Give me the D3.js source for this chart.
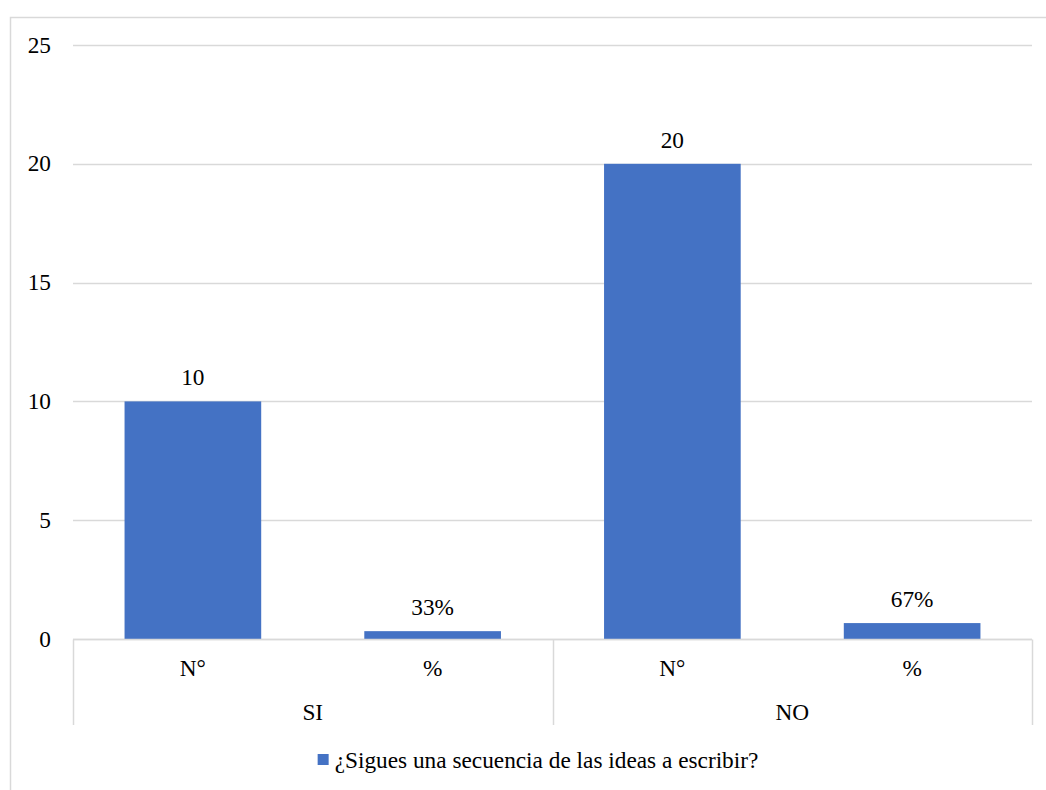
<!DOCTYPE html>
<html><head><meta charset="utf-8">
<script src="https://cdn.jsdelivr.net/npm/d3@7"></script>
<style>body{margin:0;background:#fff}svg{display:block}</style>
</head><body>
<script>
const groups = ["SI", "NO"];
const subCats = ["N°", "%"];
const values = [10, 0.33, 20, 0.67];
const valueLabels = ["10", "33%", "20", "67%"];
const yTicks = [0, 5, 10, 15, 20, 25];
const seriesName = "¿Sigues una secuencia de las ideas a escribir?";

const W = 1046, H = 790;
const FONT = "'Liberation Serif'";
const FS = 23.3;
const m = {l: 73, r: 14, t: 45, b: 151};
const svg = d3.select("body").append("svg").attr("width", W).attr("height", H);
svg.append("rect").attr("x", 10.5).attr("y", 17.5).attr("width", 1100).attr("height", 900)
  .attr("fill", "none").attr("stroke", "#d9d9d9").attr("stroke-width", 1.5);

const cats = [];
groups.forEach(g => subCats.forEach(s => cats.push(g + "|" + s)));
const x = d3.scaleBand().domain(cats).range([m.l, W - m.r]).paddingInner(0.43).paddingOuter(0.215);
const xg = d3.scaleBand().domain(groups).range([m.l, W - m.r]);
const y = d3.scaleLinear().domain([0, 25]).range([H - m.b, m.t]);

function txt(sel) { return sel.style("font-family", FONT).style("font-size", FS + "px").attr("fill", "#000"); }

const ax = svg.append("g");
ax.selectAll("line.grid").data(yTicks).join("line")
  .attr("x1", m.l).attr("x2", W - m.r).attr("y1", d => Math.round(y(d)) + 0.5).attr("y2", d => Math.round(y(d)) + 0.5)
  .attr("stroke", "#d9d9d9").attr("stroke-width", 1.5);
txt(ax.selectAll("text.yt").data(yTicks).join("text")
  .attr("x", 51).attr("y", d => y(d)).attr("dy", "0.33em").attr("text-anchor", "end")).text(d => d);

svg.selectAll("rect.bar").data(values).join("rect")
  .attr("x", (d, i) => x(cats[i])).attr("width", x.bandwidth())
  .attr("y", d => y(d)).attr("height", d => y(0) - y(d)).attr("fill", "#4472C4");
txt(svg.selectAll("text.vl").data(values).join("text")
  .attr("x", (d, i) => x(cats[i]) + x.bandwidth() / 2).attr("y", d => y(d) - 16)
  .attr("text-anchor", "middle")).text((d, i) => valueLabels[i]);

// category axis
const y0 = Math.round(y(0)) + 0.5;
svg.append("line").attr("x1", m.l).attr("x2", W - m.r).attr("y1", y0).attr("y2", y0)
  .attr("stroke", "#d9d9d9").attr("stroke-width", 1.5);
const seps = [xg(groups[0]), xg(groups[1]), xg(groups[1]) + xg.bandwidth()];
svg.selectAll("line.sep").data(seps).join("line")
  .attr("x1", d => Math.round(d) + 0.5).attr("x2", d => Math.round(d) + 0.5)
  .attr("y1", y0).attr("y2", 725).attr("stroke", "#d9d9d9").attr("stroke-width", 1.5);
txt(svg.selectAll("text.sc").data(cats).join("text")
  .attr("x", d => x(d) + x.bandwidth() / 2).attr("y", 668).attr("dy", "0.33em")
  .attr("text-anchor", "middle")).text(d => d.split("|")[1]);
txt(svg.selectAll("text.gc").data(groups).join("text")
  .attr("x", d => xg(d) + xg.bandwidth() / 2).attr("y", 712).attr("dy", "0.33em")
  .attr("text-anchor", "middle")).text(d => d);

// legend
const lg = svg.append("g");
const lt = txt(lg.append("text").attr("x", 0).attr("y", 760).attr("dy", "0.33em")).text(seriesName);
const tw = lt.node().getComputedTextLength();
const total = 11 + 6 + tw;
const lx = 538 - total / 2;
lg.append("rect").attr("x", lx).attr("y", 754).attr("width", 11).attr("height", 11).attr("fill", "#4472C4");
lt.attr("x", lx + 17);
</script>
</body></html>
